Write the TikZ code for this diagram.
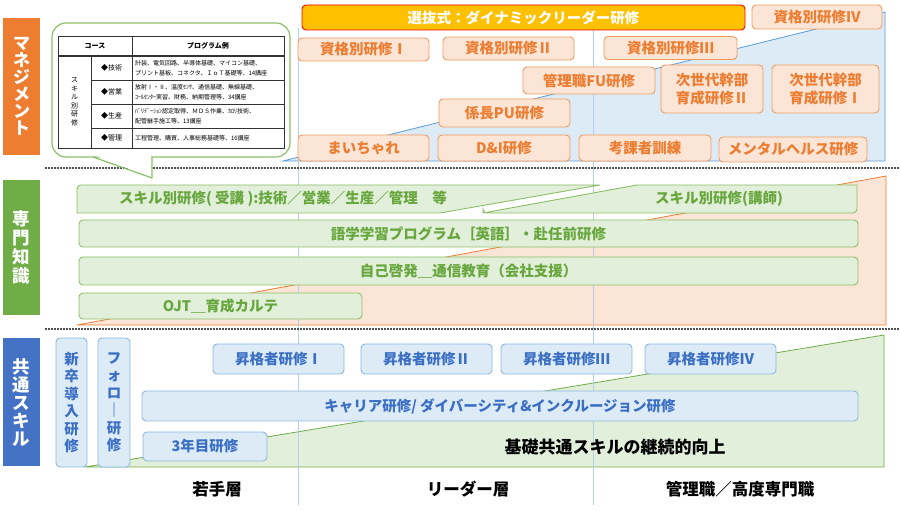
\documentclass[tikz,border=0pt]{standalone}
\usepackage{fontspec}
\setmainfont{Noto Sans CJK JP}
\definecolor{morange}{HTML}{ED7D31}
\definecolor{mgreen}{HTML}{70AD47}
\definecolor{mblue}{HTML}{4472C4}
\definecolor{mfill}{HTML}{FBE5D6}
\definecolor{mborder}{HTML}{F19C5E}
\definecolor{mtext}{HTML}{ED7D31}
\definecolor{sfill}{HTML}{E2EFDA}
\definecolor{sborder}{HTML}{8CC068}
\definecolor{stext}{HTML}{68A73D}
\definecolor{cfill}{HTML}{DDEBF7}
\definecolor{cborder}{HTML}{8DB8E2}
\definecolor{ctext}{HTML}{3B6FC4}
\definecolor{gold}{HTML}{FFC000}
\definecolor{bgblue}{HTML}{DDEBF7}
\definecolor{bgblueline}{HTML}{5B9BD5}
\definecolor{bgorange}{HTML}{FBE5D6}
\definecolor{bggreen}{HTML}{E2EFDA}
\definecolor{vline}{HTML}{B4D0EC}
\definecolor{dotgray}{HTML}{505050}
\begin{document}
\begin{tikzpicture}[x=1pt,y=-1pt,
  every node/.style={inner sep=0pt,outer sep=0pt},
  mbox/.style={draw=mborder,fill=mfill,line width=0.9pt,rounded corners=4pt,text=mtext,
    font=\bfseries\fontsize{14.5}{17.5}\selectfont,align=center},
  selbox/.style={draw=red,fill=gold,line width=0.9pt,rounded corners=4pt,text=white,
    font=\bfseries\fontsize{14.5}{17.5}\selectfont},
  sbox/.style={draw=sborder,fill=sfill,line width=0.9pt,rounded corners=4pt,text=stext,
    font=\bfseries\fontsize{14.5}{17.5}\selectfont},
  stxt/.style={text=stext,font=\bfseries\fontsize{14.5}{17.5}\selectfont},
  cbox/.style={draw=cborder,fill=cfill,line width=0.9pt,rounded corners=4pt,text=ctext,
    font=\bfseries\fontsize{14.5}{17.5}\selectfont,align=center},
  sect/.style={fill=#1,text=white,minimum width=37,align=center},
  tbl/.style={draw=black!80,line width=0.6pt},
  tblh/.style={font=\bfseries\fontsize{7}{8}\selectfont},
  tblt/.style={font=\fontsize{7}{8.5}\selectfont,align=center},
  tblp/.style={font=\fontsize{6}{10}\selectfont,align=left,anchor=west},
  layer/.style={font=\bfseries\fontsize{16.5}{18}\selectfont,text=black},
  dots/.style={draw=dotgray,line width=1.8pt,dash pattern=on 1.6pt off 1.4pt}
]
\useasboundingbox (0,0) rectangle (900,510);
\fill[white] (0,0) rectangle (900,510);

% background regions
\filldraw[fill=bgblue,draw=bgblueline,line width=0.8pt] (283,161) -- (885,12) -- (885,161) -- cycle;
\filldraw[fill=bgorange,draw=morange,line width=0.8pt] (77,325) -- (886,176) -- (886,325) -- cycle;
\filldraw[fill=bggreen,draw=mgreen,line width=0.8pt] (85,467) -- (884,335) -- (884,467) -- cycle;

% vertical guides
\draw[vline,line width=1pt] (298,28) -- (298,505);
\draw[vline,line width=1pt] (593,28) -- (593,505);

% dotted separators
\draw[dots] (45,168) -- (900,168);
\draw[dots] (45,329) -- (900,329);

% section labels
\node[sect=morange,minimum height=137,font=\bfseries\fontsize{17}{17}\selectfont] (secM) at (21.5,86.5) {マ\\ネ\\ジ\\メ\\ン\\ト};
\node[sect=mgreen,minimum height=135,font=\bfseries\fontsize{17.5}{19}\selectfont] (secS) at (21.5,247.5) {専\\門\\知\\識};
\node[sect=mblue,minimum height=128,font=\bfseries\fontsize{17.5}{18}\selectfont] (secC) at (21.5,402.5) {共\\通\\ス\\キ\\ル};

% callout bubble with table
\filldraw[draw=sborder,fill=white,line width=1.2pt,rounded corners=14pt] (52,23) rectangle (290,157);
\fill[white] (94,155) -- (152,178) -- (151.4,155) -- cycle;
\draw[draw=sborder,line width=1.2pt,line join=round] (93,157) -- (152,178) -- (152,157);

\draw[tbl] (58,36) rectangle (284,148);
\draw[tbl] (132,36) -- (132,148);
\draw[tbl] (91,56) -- (91,148);
\draw[tbl,line width=1.1pt] (58,56) -- (284,56);
\draw[tbl] (91,80) -- (284,80);
\draw[tbl] (91,104) -- (284,104);
\draw[tbl] (91,128) -- (284,128);
\node[tblh] (thc) at (95,46) {コース};
\node[tblh] (thp) at (208,46) {プログラム例};
\node[tblt] (tsk) at (74.5,102) {ス\\キ\\ル\\別\\研\\修};
\node[tblt] (r1) at (111.5,68) {◆技術};
\node[tblt] (r2) at (111.5,92) {◆営業};
\node[tblt] (r3) at (111.5,116) {◆生産};
\node[tblt] (r4) at (111.5,138) {◆管理};
\node[tblp] (p1) at (135,68) {計装、電気回路、半導体基礎、マイコン基礎、\\プリント基板、コネクタ、ＩｏＴ基礎等、14講座};
\node[tblp] (p2) at (135,92) {放射Ⅰ・Ⅱ、温度ｾﾝｻ、通信基礎、無線基礎、\\ｺｰﾙｾﾝﾀｰ実習、財務、納期管理等、34講座};
\node[tblp] (p3) at (135,116) {ﾊﾞﾘﾃﾞｰｼｮﾝ認定取得、ＭＤＳ作業、ｶﾛﾘ技術、\\配管継手施工等、13講座};
\node[tblp] (p4) at (135,138) {工程管理、購買、人事総務基礎等、16講座};

% management boxes
\node[selbox,minimum width=443,minimum height=25] (sel) at (523.5,17.5) {選抜式：ダイナミックリーダー研修};
\node[mbox,minimum width=130,minimum height=24] (q4) at (817,17) {資格別研修Ⅳ};
\node[mbox,minimum width=131,minimum height=23] (q1) at (363.5,49.5) {資格別研修Ⅰ};
\node[mbox,minimum width=131,minimum height=23] (q2) at (508.5,48.5) {資格別研修Ⅱ};
\node[mbox,minimum width=133,minimum height=23] (q3) at (670.5,48) {資格別研修Ⅲ};
\node[mbox,minimum width=132,minimum height=27] (fu) at (589,80.5) {管理職FU研修};
\node[mbox,minimum width=102,minimum height=48] (ng2) at (712,89) {次世代幹部\\育成研修Ⅱ};
\node[mbox,minimum width=107,minimum height=48] (ng1) at (825.5,89) {次世代幹部\\育成研修Ⅰ};
\node[mbox,minimum width=131,minimum height=28] (pu) at (504.5,113) {係長PU研修};
\node[mbox,minimum width=131,minimum height=26] (mai) at (363.5,148) {まいちゃれ};
\node[mbox,minimum width=132,minimum height=26] (di) at (504,148) {D\&I研修};
\node[mbox,minimum width=132,minimum height=26] (kk) at (645,148) {考課者訓練};
\node[mbox,minimum width=148,minimum height=25] (mh) at (793,149.5) {メンタルヘルス研修};

% specialised knowledge
\filldraw[draw=sborder,fill=sfill,line width=0.9pt] (300,185) -- (600,185) -- (440,213) -- (77,213) [rounded corners=4pt] -- (77,185) -- cycle;
\node[stxt] (juko) at (283,199) {スキル別研修( 受講 ):技術／営業／生産／管理　等};
\filldraw[draw=sborder,fill=sfill,line width=0.9pt] (483,213) -- (637,185) -- (857,185) [rounded corners=4pt] -- (857,213) -- (483,213) [sharp corners] -- cycle;
\node[stxt] (koshi) at (719,199) {スキル別研修(講師)};
\node[sbox,minimum width=779,minimum height=27] (lang) at (468.5,233.5) {語学学習プログラム［英語］・赴任前研修};
\node[sbox,minimum width=779,minimum height=28] (self) at (468.5,271) {自己啓発＿通信教育（会社支援）};
\node[sbox,minimum width=283,minimum height=26] (ojt) at (220.5,306) {OJT＿育成カルテ};

% common skills
\node[cbox,minimum width=31,minimum height=129] (shin) at (71.5,402.5) {新\\卒\\導\\入\\研\\修};
\node[cbox,minimum width=32,minimum height=129] (fol) at (114,402.5) {フ\\ォ\\ロ\\｜\\研\\修};
\node[cbox,minimum width=131,minimum height=30] (sh1) at (278.5,359) {昇格者研修Ⅰ};
\node[cbox,minimum width=131,minimum height=30] (sh2) at (426.5,359) {昇格者研修Ⅱ};
\node[cbox,minimum width=131,minimum height=30] (sh3) at (566.5,359) {昇格者研修Ⅲ};
\node[cbox,minimum width=131,minimum height=30] (sh4) at (710.5,359) {昇格者研修Ⅳ};
\node[cbox,minimum width=716,minimum height=30] (car) at (500,406) {キャリア研修/ ダイバーシティ\&インクルージョン研修};
\node[cbox,minimum width=124,minimum height=29] (third) at (205,446.5) {3年目研修};
\node[font=\bfseries\fontsize{17}{19}\selectfont] (kiso) at (615,447) {基礎共通スキルの継続的向上};

% layer labels
\node[layer] (l1) at (217,489) {若手層};
\node[layer] (l2) at (468,489) {リーダー層};
\node[layer] (l3) at (740,489) {管理職／高度専門職};
\end{tikzpicture}
\end{document}
